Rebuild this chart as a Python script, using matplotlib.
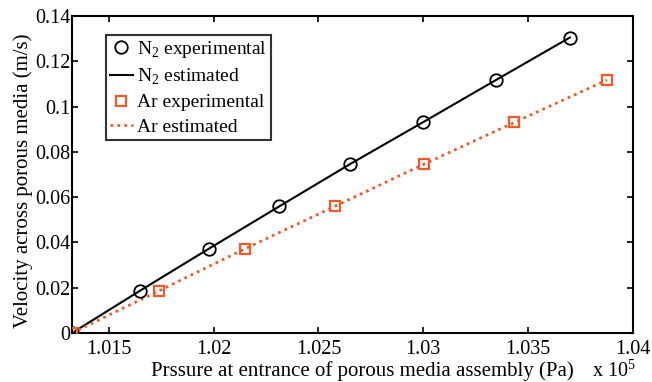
import numpy as np
import matplotlib.pyplot as plt

plt.rcParams['font.family'] = ['Liberation Serif', 'DejaVu Serif']
plt.rcParams['mathtext.fontset'] = 'custom'
plt.rcParams['mathtext.rm'] = 'Liberation Serif'

# data (pressure in Pa, velocity in m/s)
p_n2 = [101325, 101648, 101979, 102313, 102649, 102997, 103346, 103699]
v_n2 = [0.0, 0.0186, 0.0373, 0.0559, 0.0745, 0.0930, 0.1117, 0.1305]

p_ar = [101325, 101739, 102152, 102577, 103002, 103434, 103875]
v_ar = [0.0, 0.0186, 0.0373, 0.0559, 0.0745, 0.0930, 0.1117]

xticks = [101500, 102000, 102500, 103000, 103500, 104000]
xtick_labels = ['1.015', '1.02', '1.025', '1.03', '1.035', '1.04']
yticks = [0, 0.02, 0.04, 0.06, 0.08, 0.1, 0.12, 0.14]
ytick_labels = ['0', '0.02', '0.04', '0.06', '0.08', '0.1', '0.12', '0.14']

ar_color = '#F05A28'

fig = plt.figure(figsize=(6.52, 3.82), dpi=100)
ax = fig.add_axes([72 / 652, 1 - 333 / 382, 561 / 652, 317 / 382])

ax.plot(p_n2, v_n2, 'o', color='k', mfc='none', ms=9, mew=1.3, label='N$_2$ experimental', zorder=3)
ax.plot(p_n2, v_n2, '-', color='k', lw=1.5, label='N$_2$ estimated')
ax.plot(p_ar, v_ar, 's', color=ar_color, mfc='none', ms=6.5, mew=1.6, label='Ar experimental', zorder=3)
ax.plot(p_ar, v_ar, color=ar_color, lw=2, ls=(0, (1, 1.5)), label='Ar estimated')

ax.set_xlim(101325, 104000)
ax.set_ylim(0, 0.14)
ax.set_xticks(xticks)
ax.set_xticklabels(xtick_labels)
ax.set_yticks(yticks)
ax.set_yticklabels(ytick_labels)
ax.tick_params(direction='in', top=True, right=True, labelsize=14.5, length=4, width=1.2)
ax.tick_params(axis='x', pad=5)
ax.tick_params(axis='y', pad=1)
for s in ax.spines.values():
    s.set_linewidth(1.5)

ax.set_xlabel('Prssure at entrance of porous media assembly (Pa)', fontsize=15)
ax.xaxis.set_label_coords(0.518, -0.09)
ax.set_ylabel('Velocity across porous media (m/s)', fontsize=15)
ax.yaxis.set_label_coords(-0.069, 0.48)
ax.text(1.006, -0.12, 'x 10$^5$', transform=ax.transAxes, fontsize=14.5, ha='right', va='center')

leg = ax.legend(loc='upper left', bbox_to_anchor=(0.06, 0.94), fontsize=14, frameon=True,
                fancybox=False, handlelength=1.2, handletextpad=0.2, borderpad=0.2,
                labelspacing=0.35, borderaxespad=0)
leg.get_frame().set_edgecolor('k')
leg.get_frame().set_linewidth(1.5)

fig.savefig('out.png', dpi=100)
